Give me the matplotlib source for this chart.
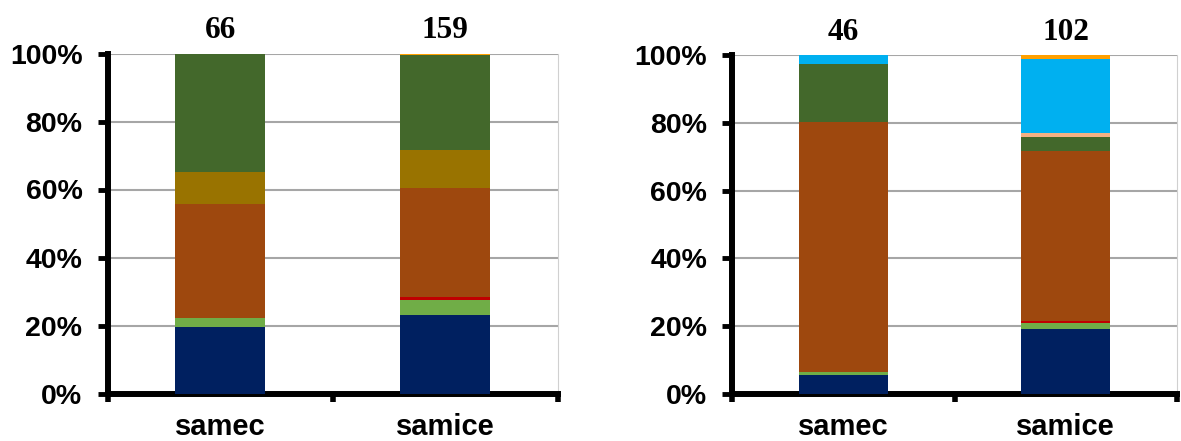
import numpy as np
import matplotlib
matplotlib.use("Agg")
import matplotlib.pyplot as plt
from matplotlib.ticker import FixedLocator, NullFormatter

# categories and sample sizes
groups = ["samec", "samice"]
n_left = [66, 159]
n_right = [46, 102]

# series colours, stacked bottom -> top
colors = ["#002060", "#70AD47", "#C00000", "#9E480E", "#997300",
          "#43682B", "#F4B183", "#00B0F0", "#FFA000"]

# percentages per series (samec, samice)
left_navy = [19.6, 23.0]
left_lgreen = [2.5, 4.4]
left_red = [0.0, 0.9]
left_brown = [33.5, 32.1]
left_olive = [9.5, 11.3]
left_dgreen = [34.9, 27.9]
left_salmon = [0.0, 0.0]
left_lblue = [0.0, 0.0]
left_orange = [0.0, 0.4]

right_navy = [5.75, 19.1]
right_lgreen = [0.7, 1.8]
right_red = [0.0, 0.7]
right_brown = [73.9, 50.1]
right_olive = [0.0, 0.0]
right_dgreen = [17.0, 4.0]
right_salmon = [0.0, 1.4]
right_lblue = [2.65, 21.7]
right_orange = [0.0, 1.2]

left_series = [left_navy, left_lgreen, left_red, left_brown, left_olive,
               left_dgreen, left_salmon, left_lblue, left_orange]
right_series = [right_navy, right_lgreen, right_red, right_brown, right_olive,
                right_dgreen, right_salmon, right_lblue, right_orange]

sans = ["Liberation Sans", "DejaVu Sans"]
serif = ["Liberation Serif", "DejaVu Serif"]

W, H = 1181, 441
fig = plt.figure(figsize=(W / 100, H / 100), dpi=100)


def panel(rect, series, counts):
    ax = fig.add_axes(rect)
    x = np.arange(len(groups))
    bottom = np.zeros(len(groups))
    for vals, c in zip(series, colors):
        v = np.array(vals)
        ax.bar(x, v, 0.4, bottom=bottom, color=c, linewidth=0, zorder=3)
        bottom += v
    ax.set_xlim(-0.5, 1.5)
    ax.set_ylim(0, 100)
    ax.set_yticks(np.arange(0, 101, 20))
    ax.set_yticklabels(["%d%%" % t for t in range(0, 101, 20)],
                       family=sans, fontweight="bold", fontsize=20.5)
    ax.yaxis.grid(True, color="#A6A6A6", linewidth=1.5, zorder=0)
    ax.set_axisbelow(True)
    # boundary ticks on x, labels in the middle
    ax.xaxis.set_major_locator(FixedLocator([-0.5, 0.5, 1.5]))
    ax.xaxis.set_major_formatter(NullFormatter())
    ax.xaxis.set_minor_locator(FixedLocator(x))
    ax.set_xticklabels(groups, minor=True, family=sans,
                       fontweight="bold", fontsize=21)
    ax.tick_params(axis="x", which="minor", length=0, pad=14)
    ax.tick_params(axis="x", which="major", length=6, width=4, color="black")
    ax.tick_params(axis="y", length=7, width=3.5, pad=11, color="black")
    for s in ["left", "bottom"]:
        ax.spines[s].set_linewidth(4.3)
        ax.spines[s].set_color("black")
    ax.spines["top"].set_visible(False)
    ax.spines["right"].set_color("#D0D0D0")
    ax.spines["right"].set_linewidth(0.8)
    for xi, n in zip(x, counts):
        ax.annotate(str(n), (xi, 100), xytext=(0, 11),
                    textcoords="offset points", ha="center", va="baseline",
                    family=serif, fontweight="bold", fontsize=22.5)
    return ax


panel([107.5 / W, 1 - 393.5 / H, 450 / W, 340 / H], left_series, n_left)
panel([732.3 / W, 1 - 394 / H, 444.4 / W, 339 / H], right_series, n_right)

fig.savefig("out.png", dpi=100)
